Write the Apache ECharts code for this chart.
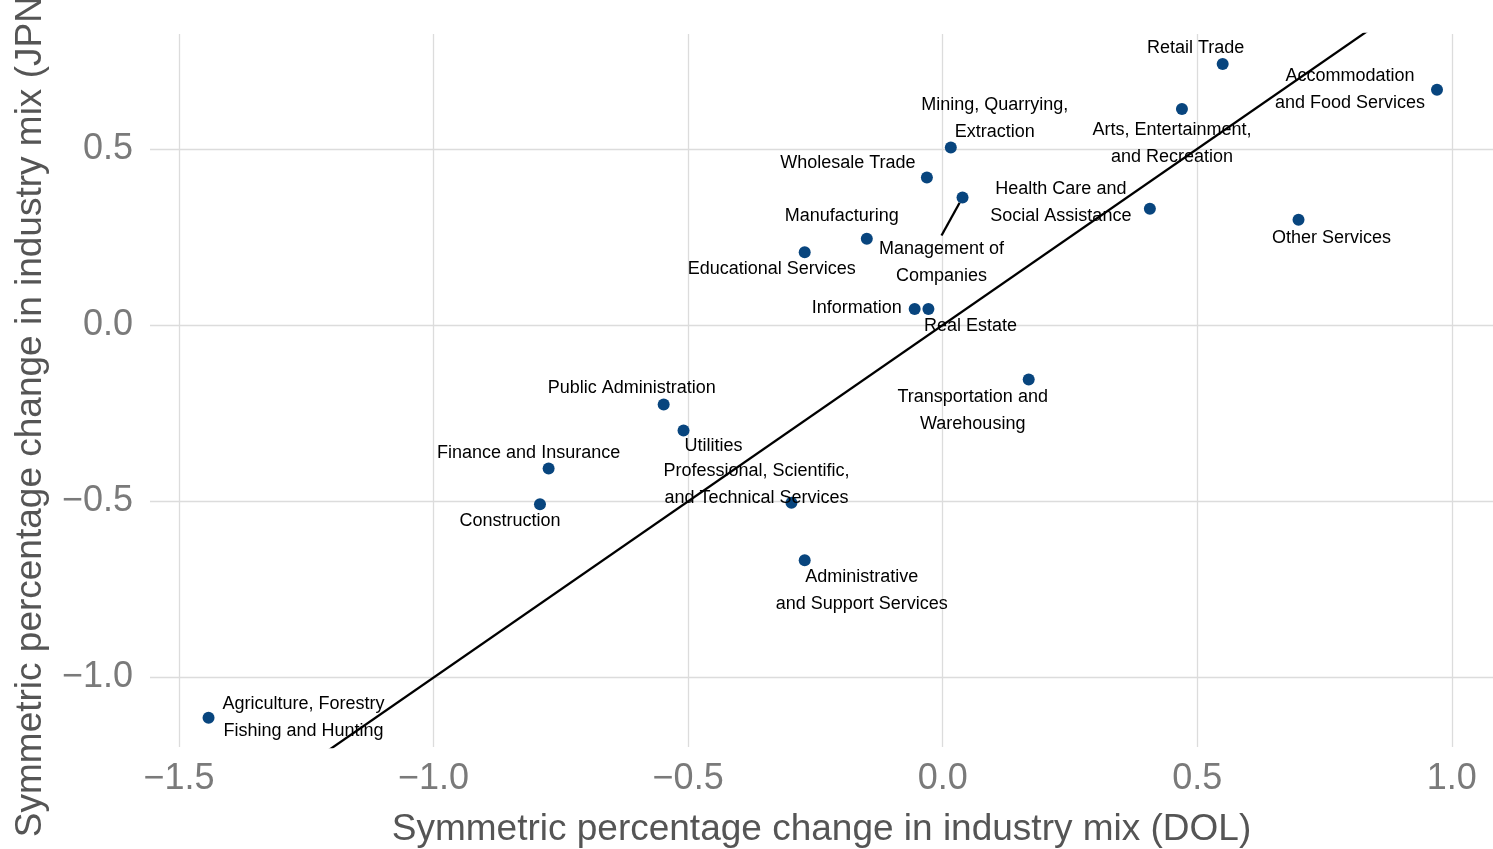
<!DOCTYPE html>
<html>
<head>
<meta charset="utf-8">
<script src="https://cdn.jsdelivr.net/npm/echarts@6/dist/echarts.min.js"></script>
<style>html,body{margin:0;padding:0;background:#fff}#c{width:1493px;height:849px}</style>
</head>
<body>
<div id="c"></div>
<script>
const industries = ["Agriculture, Forestry\nFishing and Hunting","Construction","Finance and Insurance","Public Administration","Utilities","Professional, Scientific,\nand Technical Services","Administrative\nand Support Services","Educational Services","Manufacturing","Wholesale Trade","Mining, Quarrying,\nExtraction","Management of\nCompanies","Information","Real Estate","Transportation and\nWarehousing","Health Care and\nSocial Assistance","Arts, Entertainment,\nand Recreation","Retail Trade","Accommodation\nand Food Services","Other Services"];
const dolChange = [-1.442,-0.791,-0.774,-0.548,-0.509,-0.297,-0.271,-0.271,-0.149,-0.031,0.016,0.039,-0.055,-0.028,0.169,0.407,0.470,0.550,0.971,0.699];
const jpnChange = [-1.114,-0.508,-0.407,-0.225,-0.299,-0.504,-0.667,0.207,0.245,0.419,0.504,0.362,0.046,0.046,-0.154,0.330,0.613,0.741,0.668,0.299];
// label offsets in pixels (layout only)
const labelOffsets = [[95,0],[-30,17],[-20,-16],[-32,-16],[30,16],[-35,-18],[57,30],[-33,17],[-25,-23],[-79,-14],[44,-29],[-21,65],[-58,-1],[42,17],[-56,31],[-89,-6],[-10,34],[-27,-16],[-87,0],[33,18]];
const xTicks = [-1.5,-1.0,-0.5,0.0,0.5,1.0];
const yTicks = [-1.0,-0.5,0.0,0.5];
const refLine = [-1.6, 1.2];

const FONT = "Liberation Sans, Arial, sans-serif";
const fmt = v => (v < 0 ? '\u2212' : '') + Math.abs(v).toFixed(1);

const chart = echarts.init(document.getElementById('c'), null, {renderer:'canvas'});
chart.setOption({
  animation:false,
  backgroundColor:'#fff',
  grid:{left:150,right:0,top:34,bottom:102,containLabel:false,outerBoundsMode:'none'},
  xAxis:{
    type:'value', min:-1.557, max:1.081,
    name:'Symmetric percentage change in industry mix (DOL)',
    nameLocation:'middle', nameGap:64,
    nameTextStyle:{fontFamily:FONT,fontSize:37,color:'#555555'},
    axisLine:{show:false},
    axisTick:{show:false, customValues:xTicks},
    axisLabel:{customValues:xTicks, formatter:fmt, fontFamily:FONT, fontSize:36, color:'#7a7a7a', margin:14},
    splitLine:{show:true, lineStyle:{color:'#dcdcdc', width:1.3}}
  },
  yAxis:{
    type:'value', min:-1.197, max:0.826,
    name:'Symmetric percentage change in industry mix (JPN)',
    nameLocation:'middle', nameGap:101,
    nameTextStyle:{fontFamily:FONT,fontSize:37,color:'#555555',padding:[0,40,0,0]},
    axisLine:{show:false},
    axisTick:{show:false, customValues:yTicks},
    axisLabel:{customValues:yTicks, formatter:fmt, fontFamily:FONT, fontSize:36, color:'#7a7a7a', margin:17, padding:[4,0,0,0]},
    splitLine:{show:true, lineStyle:{color:'#dcdcdc', width:1.3}}
  },
  series:[
    {
      type:'line',
      data:refLine.map(v=>[v,v]),
      symbol:'none',
      clip:true,
      lineStyle:{color:'#000',width:2.3},
      z:3,
      silent:true
    },
    {
      type:'scatter',
      data:dolChange.map((x,i)=>({
        value:[x,jpnChange[i]],
        name:industries[i],
        labelLine:{show: i===11, lineStyle:{color:'#000',width:2.3}}
      })),
      symbolSize:12,
      itemStyle:{color:'#08457e',opacity:1},
      z:2,
      label:{
        show:true, position:'inside', formatter:p=>p.name,
        fontFamily:FONT, fontSize:18, lineHeight:27, color:'#000',
        align:'center', verticalAlign:'middle'
      },
      labelLayout:function(p){
        const o = labelOffsets[p.dataIndex];
        return {dx:o[0], dy:o[1]};
      }
    }
  ]
});
</script>
</body>
</html>
